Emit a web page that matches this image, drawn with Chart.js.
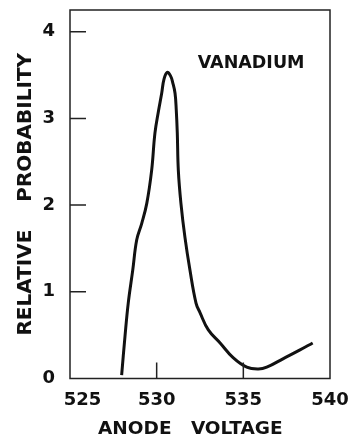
<!DOCTYPE html>
<html>
<head>
<meta charset="utf-8">
<script src="https://cdn.jsdelivr.net/npm/chart.js@4/dist/chart.umd.min.js"></script>
<style>
  html, body { margin: 0; padding: 0; background: #fff; }
  canvas { display: block; }
</style>
</head>
<body>
<canvas id="chart" width="352" height="442"></canvas>
<script>
// anode voltage (V) and relative probability
var voltage = [527.98, 528.17, 528.36, 528.62, 528.85, 529.14, 529.43, 529.71, 529.90, 530.10,
               530.29, 530.42, 530.61, 530.80, 530.93, 531.06, 531.13, 531.19, 531.25, 531.40,
               531.63, 531.92, 532.27, 532.50, 532.98, 533.66, 534.41, 535.20, 535.87, 536.35,
               537.31, 538.27, 539.00];
var probability = [0.04, 0.48, 0.87, 1.25, 1.60, 1.79, 2.02, 2.40, 2.83, 3.08,
                   3.29, 3.45, 3.53, 3.49, 3.41, 3.29, 3.10, 2.83, 2.40, 2.02,
                   1.63, 1.25, 0.87, 0.76, 0.56, 0.41, 0.24, 0.13, 0.11, 0.13,
                   0.23, 0.33, 0.41];
var xTicks = [525, 530, 535, 540];
var yTicks = [0, 1, 2, 3, 4];
var element = 'VANADIUM';

var ink = '#111';
var points = voltage.map(function(v, i) { return {x: v, y: probability[i]}; });

// frame round the plot, inward tick marks and the element label
var framePlugin = {
	id: 'frame',
	afterDraw: function(chart) {
		var ctx = chart.ctx, a = chart.chartArea;
		var sx = chart.scales.x, sy = chart.scales.y;
		ctx.save();
		ctx.strokeStyle = '#222';
		ctx.lineWidth = 1.5;
		ctx.strokeRect(a.left, a.top, a.right - a.left, a.bottom - a.top);
		ctx.beginPath();
		yTicks.forEach(function(v) {
			if (v === 0) return;
			var y = sy.getPixelForValue(v);
			ctx.moveTo(a.left, y);
			ctx.lineTo(a.left + 16, y);
		});
		xTicks.forEach(function(v) {
			if (v === xTicks[0] || v === xTicks[xTicks.length - 1]) return;
			var x = sx.getPixelForValue(v);
			ctx.moveTo(x, a.bottom);
			ctx.lineTo(x, a.bottom - 16);
		});
		ctx.stroke();
		ctx.fillStyle = ink;
		ctx.font = 'bold 17.5px "DejaVu Sans"';
		ctx.textAlign = 'center';
		ctx.textBaseline = 'middle';
		ctx.fillText(element, sx.getPixelForValue(535.45), sy.getPixelForValue(3.63));
		ctx.restore();
	}
};

new Chart(document.getElementById('chart'), {
	type: 'line',
	data: {
		datasets: [{
			data: points,
			borderColor: ink,
			borderWidth: 3,
			pointRadius: 0,
			fill: false,
			tension: 0.4
		}]
	},
	options: {
		responsive: false,
		animation: false,
		layout: {padding: {top: 10, right: 22, left: 0, bottom: 0}},
		plugins: {legend: {display: false}, tooltip: {enabled: false}},
		scales: {
			x: {
				type: 'linear',
				min: 525,
				max: 540,
				afterBuildTicks: function(s) { s.ticks = xTicks.map(function(v) { return {value: v}; }); },
				afterFit: function(s) { s.height = 63.5; s.paddingLeft = 0; s.paddingRight = 0; },
				grid: {display: false, drawTicks: false},
				border: {display: false},
				ticks: {
					padding: 11,
					maxRotation: 0,
					color: ink,
					font: {family: 'DejaVu Sans', weight: 'bold', size: 18},
					callback: function(v) { return v === 525 ? '    525' : String(v); }
				},
				title: {
					display: true,
					text: 'ANODE   VOLTAGE   ',
					color: ink,
					font: {family: 'DejaVu Sans', weight: 'bold', size: 18.5},
					padding: {top: 0, bottom: 2}
				}
			},
			y: {
				min: 0,
				max: 4.25,
				afterBuildTicks: function(s) { s.ticks = yTicks.map(function(v) { return {value: v}; }); },
				afterFit: function(s) { s.width = 70; s.paddingTop = 0; s.paddingBottom = 0; },
				grid: {display: false, drawTicks: false},
				border: {display: false},
				ticks: {
					padding: 15,
					color: ink,
					font: {family: 'DejaVu Sans', weight: 'bold', size: 18}
				},
				title: {
					display: true,
					text: 'RELATIVE    PROBABILITY',
					color: ink,
					font: {family: 'DejaVu Sans', weight: 'bold', size: 20},
					padding: {top: 14, bottom: 0}
				}
			}
		}
	},
	plugins: [framePlugin]
});
</script>
</body>
</html>
